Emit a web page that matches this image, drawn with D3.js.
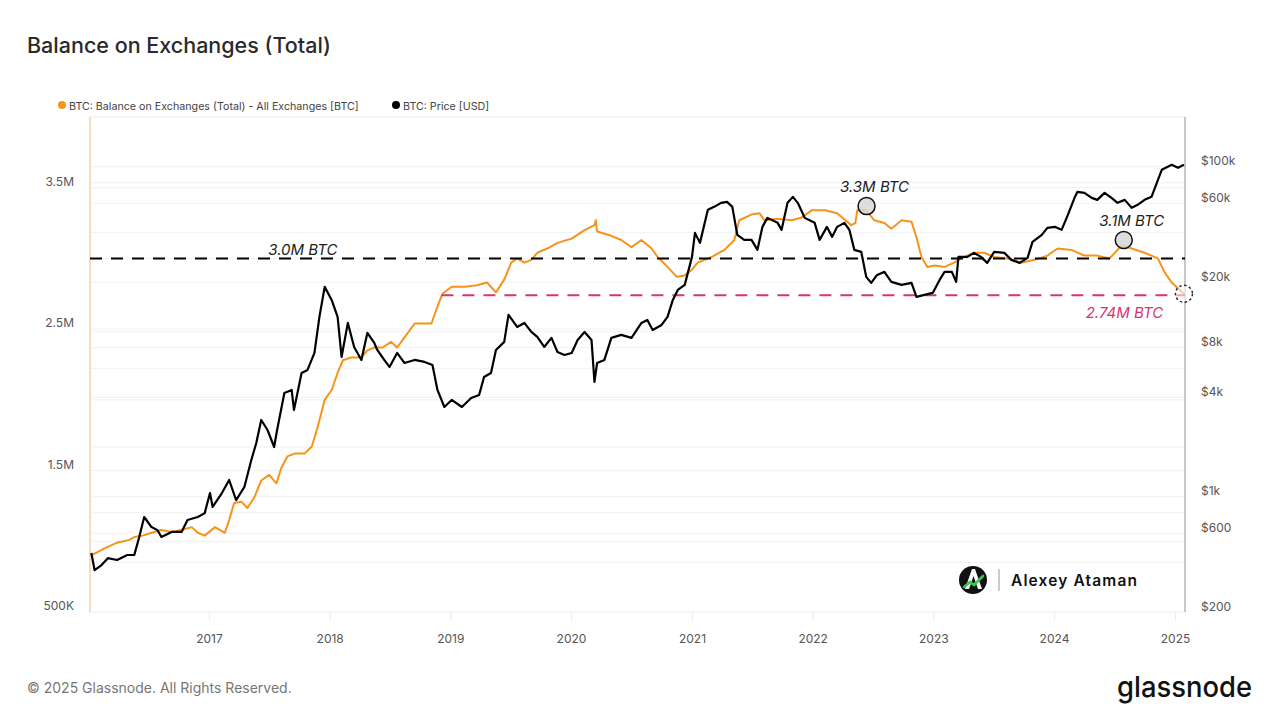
<!DOCTYPE html>
<html>
<head>
<meta charset="utf-8">
<script src="https://cdn.jsdelivr.net/npm/d3@7"></script>
<style>
  html, body { margin: 0; padding: 0; background: #fff; }
  svg { display: block; font-family: Inter, "Noto Sans", "DejaVu Sans", sans-serif; }
</style>
</head>
<body>
<svg id="chart" width="1280" height="720"></svg>
<script>
// ---------------- DATA ----------------
const balanceSeries = [
  ["2016-01-11",0.90],["2016-02-20",0.95],["2016-03-29",0.99],["2016-05-05",1.01],["2016-05-20",1.03],
  ["2016-06-14",1.04],["2016-07-11",1.06],["2016-08-10",1.08],["2016-09-10",1.065],["2016-10-10",1.08],
  ["2016-11-10",1.10],["2016-11-28",1.06],["2016-12-19",1.04],["2017-01-19",1.10],["2017-02-18",1.06],
  ["2017-03-03",1.15],["2017-03-18",1.27],["2017-04-09",1.28],["2017-04-27",1.235],["2017-05-18",1.31],
  ["2017-06-08",1.43],["2017-07-02",1.47],["2017-07-24",1.41],["2017-08-08",1.52],["2017-08-26",1.60],
  ["2017-09-17",1.62],["2017-10-17",1.62],["2017-11-08",1.67],["2017-11-26",1.81],["2017-12-17",2.00],
  ["2018-01-07",2.07],["2018-01-25",2.19],["2018-02-10",2.28],["2018-03-07",2.30],["2018-04-07",2.30],
  ["2018-04-25",2.35],["2018-05-16",2.37],["2018-06-10",2.37],["2018-07-06",2.41],["2018-07-24",2.37],
  ["2018-08-15",2.44],["2018-09-15",2.54],["2018-11-05",2.54],["2018-11-23",2.66],["2018-12-08",2.75],
  ["2019-01-05",2.80],["2019-02-14",2.80],["2019-03-23",2.81],["2019-04-22",2.83],["2019-05-19",2.76],
  ["2019-06-13",2.85],["2019-07-04",2.97],["2019-07-22",3.00],["2019-08-13",2.97],["2019-09-03",2.99],
  ["2019-09-21",3.04],["2019-10-21",3.07],["2019-11-21",3.11],["2020-01-03",3.14],["2020-02-11",3.20],
  ["2020-03-12",3.235],["2020-03-16",3.27],["2020-03-20",3.19],["2020-05-02",3.16],["2020-06-01",3.13],
  ["2020-07-02",3.08],["2020-08-01",3.13],["2020-09-01",3.07],["2020-09-19",3.01],["2020-10-19",2.94],
  ["2020-11-16",2.87],["2020-12-10",2.88],["2021-01-01",2.92],["2021-01-18",2.97],["2021-03-01",3.01],
  ["2021-04-09",3.06],["2021-05-09",3.13],["2021-05-24",3.27],["2021-06-30",3.31],["2021-07-24",3.32],
  ["2021-08-08",3.27],["2021-09-17",3.28],["2021-10-30",3.27],["2021-11-29",3.29],["2021-12-29",3.34],
  ["2022-02-07",3.34],["2022-03-16",3.32],["2022-04-28",3.235],["2022-05-10",3.25],["2022-05-16",3.34],
  ["2022-06-12",3.34],["2022-07-06",3.27],["2022-08-06",3.25],["2022-08-27",3.21],["2022-09-27",3.27],
  ["2022-10-27",3.26],["2022-11-11",3.15],["2022-11-26",3.01],["2022-12-14",2.94],["2023-01-05",2.95],
  ["2023-02-04",2.94],["2023-03-05",2.97],["2023-03-26",3.00],["2023-05-04",3.04],["2023-06-04",3.04],
  ["2023-07-04",3.01],["2023-08-13",3.00],["2023-09-24",2.97],["2023-11-03",2.99],["2023-12-12",3.02],
  ["2024-01-12",3.07],["2024-02-23",3.06],["2024-04-02",3.02],["2024-05-11",3.02],["2024-06-17",3.00],
  ["2024-07-23",3.09],["2024-08-23",3.07],["2024-10-01",3.04],["2024-11-10",3.00],["2024-12-01",2.90],
  ["2024-12-22",2.83],["2025-01-28",2.75]
];

const priceSeries = [
  ["2016-01-11",456],["2016-01-21",359],["2016-02-11",385],["2016-03-01",424],["2016-03-29",413],
  ["2016-04-29",443],["2016-05-20",443],["2016-06-04",570],["2016-06-19",753],["2016-07-11",654],
  ["2016-07-29",627],["2016-08-10",570],["2016-09-10",611],["2016-10-10",611],["2016-10-28",722],
  ["2016-11-28",753],["2016-12-19",795],["2017-01-04",1052],["2017-01-12",866],["2017-02-09",1052],
  ["2017-03-03",1262],["2017-03-24",954],["2017-04-18",1144],["2017-05-09",1669],["2017-05-24",2115],
  ["2017-06-08",2916],["2017-06-27",2536],["2017-07-17",2000],["2017-07-26",2536],["2017-08-17",4252],
  ["2017-09-08",4434],["2017-09-15",3353],["2017-10-08",5622],["2017-10-26",5863],["2017-11-16",7430],
  ["2017-12-01",12287],["2017-12-17",18680],["2018-01-07",15580],["2018-01-25",12287],["2018-02-06",7025],
  ["2018-02-25",11298],["2018-03-16",8080],["2018-04-07",6740],["2018-04-25",9825],["2018-05-16",8544],
  ["2018-05-25",7747],["2018-06-15",6740],["2018-07-01",6113],["2018-07-24",7430],["2018-08-15",6463],
  ["2018-09-15",6740],["2018-10-15",6554],["2018-11-08",6285],["2018-11-23",4434],["2018-12-14",3496],
  ["2019-01-05",3856],["2019-02-05",3496],["2019-03-05",3966],["2019-03-29",4133],["2019-04-13",5315],
  ["2019-05-04",5622],["2019-05-19",7747],["2019-06-13",8669],["2019-06-26",12635],["2019-07-22",10684],
  ["2019-08-13",11298],["2019-09-03",9964],["2019-09-21",9291],["2019-10-12",8080],["2019-11-03",9164],
  ["2019-11-21",7534],["2019-12-12",7226],["2020-01-03",7430],["2020-01-21",8910],["2020-02-11",9964],
  ["2020-03-03",8910],["2020-03-12",4956],["2020-03-20",6463],["2020-04-11",6740],["2020-05-02",9164],
  ["2020-06-01",9557],["2020-07-02",9164],["2020-08-01",11298],["2020-08-19",11783],["2020-09-04",10246],
  ["2020-10-01",10988],["2020-10-19",12287],["2020-11-04",15580],["2020-11-19",17914],["2020-12-10",19207],
  ["2021-01-01",28392],["2021-01-10",39700],["2021-01-25",34525],["2021-02-18",54727],["2021-03-09",57071],
  ["2021-03-30",60369],["2021-04-17",61216],["2021-05-03",57071],["2021-05-18",38604],["2021-06-08",36000],
  ["2021-06-30",36000],["2021-07-18",31313],["2021-08-02",43183],["2021-08-17",48944],["2021-09-17",45657],
  ["2021-09-29",41404],["2021-10-17",60369],["2021-11-02",65621],["2021-11-17",60369],["2021-12-08",48944],
  ["2022-01-07",45657],["2022-01-22",36000],["2022-02-13",43183],["2022-03-01",37541],["2022-03-16",43183],
  ["2022-04-07",45657],["2022-04-22",41404],["2022-05-07",31313],["2022-05-28",30445],["2022-06-12",21472],
  ["2022-06-27",19747],["2022-07-15",22080],["2022-08-06",23035],["2022-08-27",20029],["2022-09-27",19207],
  ["2022-10-27",19747],["2022-11-11",16242],["2022-12-05",16698],["2022-12-30",17176],["2023-01-20",20593],
  ["2023-02-04",23035],["2023-02-26",23035],["2023-03-11",20029],["2023-03-18",28392],["2023-04-14",28392],
  ["2023-05-04",30022],["2023-05-25",28392],["2023-06-13",26116],["2023-07-04",30445],["2023-08-04",30022],
  ["2023-08-25",27234],["2023-09-19",26116],["2023-10-13",28004],["2023-10-28",35013],["2023-11-25",38604],
  ["2023-12-12",42586],["2024-01-03",43183],["2024-01-24",41404],["2024-02-12",51028],["2024-03-03",64720],
  ["2024-03-12",70373],["2024-04-02",69397],["2024-04-24",64720],["2024-05-11",62930],["2024-06-02",69397],
  ["2024-06-23",64720],["2024-07-11",60369],["2024-08-02",62930],["2024-08-23",56290],["2024-09-10",58699],
  ["2024-10-01",62930],["2024-10-22",65621],["2024-11-07",79802],["2024-11-22",95697],["2024-12-22",102598],
  ["2025-01-10",98388],["2025-01-28",102598]
];

const yearTicks = [2017,2018,2019,2020,2021,2022,2023,2024,2025];
const leftGrid = [1.0,1.5,2.0,2.5,3.0,3.5];
const leftLabels = [0.5,1.5,2.5,3.5];
const leftLabelText = ["500K","1.5M","2.5M","3.5M"];
const rightGrid = [400,600,800,1000,2000,4000,6000,8000,10000,20000,40000,60000,80000,100000];
const rightLabels = [200,600,1000,4000,8000,20000,60000,100000];
const rightLabelText = ["$200","$600","$1k","$4k","$8k","$20k","$60k","$100k"];

const refLines = [
  {value:3.0, start:"2016-01-11", label:"3.0M BTC", labelDate:"2017-10-12"},
  {value:2.74, start:"2018-12-05", label:"2.74M BTC", labelDate:"2024-08-01"}
];
const callouts = [
  {date:"2022-06-13", value:3.37, label:"3.3M BTC", dashed:false},
  {date:"2024-07-30", value:3.13, label:"3.1M BTC", dashed:false},
  {date:"2025-01-28", value:2.75, label:"", dashed:true}
];

const legendItems = [
  {label:"BTC: Balance on Exchanges (Total) - All Exchanges [BTC]", color:"#f7931a"},
  {label:"BTC: Price [USD]", color:"#000000"}
];

// ---------------- LAYOUT ----------------
const parse = d3.utcParse("%Y-%m-%d");
const P = {l:90, r:1185, t:117, b:612};
const ORANGE = "#f7931a", PINK = "#d9346f";
const FONT = "Inter, 'Noto Sans', sans-serif";

const x = d3.scaleUtc()
  .domain([new Date(Date.UTC(2017,0,1)), new Date(Date.UTC(2025,0,1))])
  .range([209, 1175]);
const yL = d3.scaleLinear().domain([0.5, 4.0]).range([P.b, P.t]);
const yR = d3.scaleLog().domain([200, 200000]).range([P.b, P.t]);

const svg = d3.select("#chart");

svg.append("defs").append("clipPath").attr("id","plotclip")
  .append("rect").attr("x",P.l).attr("y",P.t-4).attr("width",P.r-P.l).attr("height",P.b-P.t+8);

// Title
svg.append("text").attr("x",27).attr("y",53)
  .attr("font-size",21.5).attr("font-weight",500).attr("fill","#2a2a2a")
  .text("Balance on Exchanges (Total)");

// Legend
const legG = svg.append("g");
legendItems.forEach((it,i) => {
  const cx = i === 0 ? 62 : 396;
  legG.append("circle").attr("cx",cx).attr("cy",105).attr("r",4).attr("fill",it.color);
  legG.append("text").attr("x",cx+7).attr("y",109.5).attr("font-size",10.7).attr("fill","#444").text(it.label);
});

// Plot frame
svg.append("rect").attr("x",P.l).attr("y",P.t).attr("width",P.r-P.l).attr("height",P.b-P.t)
  .attr("fill","none").attr("stroke","#ececec").attr("stroke-width",1);

// Gridlines
const gridG = svg.append("g");
gridG.selectAll("line.gl").data(leftGrid).join("line")
  .attr("x1",P.l).attr("x2",P.r).attr("y1",d=>yL(d)).attr("y2",d=>yL(d))
  .attr("stroke","#f1f1f1").attr("stroke-width",1);
gridG.selectAll("line.gr").data(rightGrid).join("line")
  .attr("x1",P.l).attr("x2",P.r).attr("y1",d=>yR(d)).attr("y2",d=>yR(d))
  .attr("stroke","#f1f1f1").attr("stroke-width",1);

// Axes
const xAxis = d3.axisBottom(x)
  .tickValues(yearTicks.map(y => new Date(Date.UTC(y,0,1))))
  .tickFormat(d3.utcFormat("%Y")).tickSize(8).tickPadding(14);
const gx = svg.append("g").attr("transform",`translate(0,${P.b})`).call(xAxis);
gx.select(".domain").remove();
gx.selectAll(".tick line").attr("stroke","#ececec");
gx.selectAll(".tick text").attr("font-size",12).attr("fill","#555").attr("font-family",FONT);

const yAxisL = d3.axisLeft(yL).tickValues(leftLabels)
  .tickFormat((d,i) => leftLabelText[i]).tickSize(0).tickPadding(16);
const gyl = svg.append("g").attr("transform",`translate(${P.l},0)`).call(yAxisL);
gyl.select(".domain").remove();
gyl.selectAll(".tick text").attr("font-size",12).attr("fill","#555").attr("dy","-0.2em")
  .attr("font-family",FONT);

const yAxisR = d3.axisRight(yR).tickValues(rightLabels)
  .tickFormat((d,i) => rightLabelText[i]).tickSize(0).tickPadding(16);
const gyr = svg.append("g").attr("transform",`translate(${P.r},0)`).call(yAxisR);
gyr.select(".domain").remove();
gyr.selectAll(".tick text").attr("font-size",12).attr("fill","#555").attr("dy","-0.15em")
  .attr("font-family",FONT);

// Left orange axis line and right gray axis line
svg.append("line").attr("x1",P.l).attr("x2",P.l).attr("y1",P.t).attr("y2",P.b)
  .attr("stroke","#f7d4ab").attr("stroke-width",1.5);
svg.append("line").attr("x1",P.r).attr("x2",P.r).attr("y1",P.t).attr("y2",P.b)
  .attr("stroke","#a8a8a8").attr("stroke-width",1.2);

const plotG = svg.append("g").attr("clip-path","url(#plotclip)");

// Balance line
const balLine = d3.line().x(d=>x(parse(d[0]))).y(d=>yL(d[1]));
plotG.append("path").datum(balanceSeries).attr("d",balLine)
  .attr("fill","none").attr("stroke",ORANGE).attr("stroke-width",2).attr("stroke-linejoin","round");

// Reference dashed lines
refLines.forEach((r,i) => {
  plotG.append("line")
    .attr("x1", i===0 ? P.l : x(parse(r.start))).attr("x2",P.r)
    .attr("y1",yL(r.value)).attr("y2",yL(r.value))
    .attr("stroke", i===0 ? "#000" : PINK).attr("stroke-width",2)
    .attr("stroke-dasharray","12,9");
});

// Price line
const priceLine = d3.line().x(d=>x(parse(d[0]))).y(d=>yR(d[1]));
plotG.append("path").datum(priceSeries).attr("d",priceLine)
  .attr("fill","none").attr("stroke","#000").attr("stroke-width",2.2).attr("stroke-linejoin","round");

// Reference labels
svg.append("text").attr("x",x(parse(refLines[0].labelDate))).attr("y",yL(refLines[0].value)-3)
  .attr("text-anchor","middle").attr("font-size",15).attr("font-style","italic").attr("fill","#222")
  .text(refLines[0].label);
svg.append("text").attr("x",x(parse(refLines[1].labelDate))).attr("y",yL(refLines[1].value)+23)
  .attr("text-anchor","middle").attr("font-size",15).attr("font-style","italic").attr("fill",PINK)
  .text(refLines[1].label);

// Callout circles
callouts.forEach(c => {
  const cx = x(parse(c.date)), cy = yL(c.value);
  if (c.dashed) {
    svg.append("circle").attr("cx",cx).attr("cy",cy).attr("r",8.5)
      .attr("fill","rgba(255,255,255,0.55)").attr("stroke","#222").attr("stroke-width",1.4)
      .attr("stroke-dasharray","2.5,2.5");
  } else {
    svg.append("circle").attr("cx",cx).attr("cy",cy).attr("r",8.5)
      .attr("fill","rgba(215,215,215,0.85)").attr("stroke","#111").attr("stroke-width",1.5);
    svg.append("text").attr("x",cx+8).attr("y",cy-14)
      .attr("text-anchor","middle").attr("font-size",15).attr("font-style","italic").attr("fill","#222")
      .text(c.label);
  }
});

// Watermark
const wm = svg.append("g");
wm.append("circle").attr("cx",973).attr("cy",580).attr("r",14).attr("fill","#111");
wm.append("path").attr("d","M965,589 L972,569 L975,569 L982,589 L978,589 L973.5,576 L969,589 Z").attr("fill","#fff");
wm.append("path").attr("d","M964,587 L970,582 L974,585 L983,576").attr("fill","none")
  .attr("stroke","#35c94a").attr("stroke-width",2.6).attr("stroke-linecap","round");
wm.append("line").attr("x1",999).attr("x2",999).attr("y1",569).attr("y2",591).attr("stroke","#999").attr("stroke-width",1);
wm.append("text").attr("x",1011).attr("y",586).attr("font-size",15.5).attr("font-weight",600).attr("fill","#111")
  .attr("textLength",126).attr("lengthAdjust","spacing")
  .text("Alexey Ataman");

// Footer
svg.append("text").attr("x",27).attr("y",693).attr("font-size",14).attr("fill","#777")
  .text("© 2025 Glassnode. All Rights Reserved.");
svg.append("text").attr("x",1117).attr("y",697).attr("font-size",29).attr("font-weight",500).attr("fill","#111")
  .attr("textLength",135).attr("lengthAdjust","spacingAndGlyphs")
  .text("glassnode");
</script>
</body>
</html>
